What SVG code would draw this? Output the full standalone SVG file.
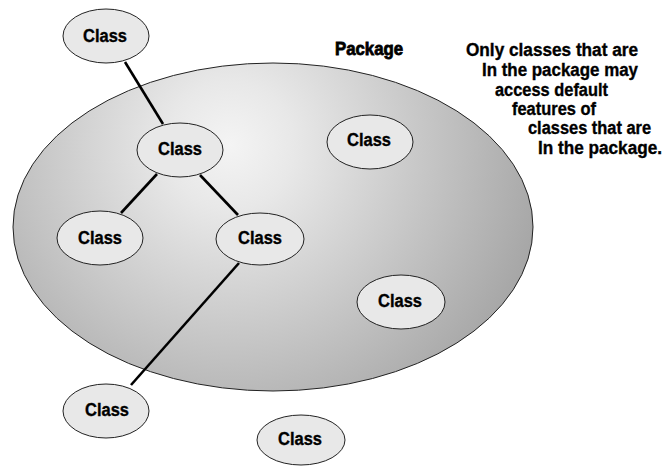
<svg xmlns="http://www.w3.org/2000/svg" width="667" height="466" viewBox="0 0 667 466">
<defs>
<radialGradient id="pkgGrad" gradientUnits="userSpaceOnUse" cx="230" cy="145" r="320">
<stop offset="0" stop-color="#f4f4f4"/>
<stop offset="0.2" stop-color="#e8e8e8"/>
<stop offset="1" stop-color="#a6a6a6"/>
</radialGradient>
<style>
.cls ellipse{fill:#e8e8e8;stroke:#222;stroke-width:1}
.t{font-family:"Liberation Sans",Arial,sans-serif;font-weight:bold;font-size:18px;fill:#000;stroke:#000;stroke-width:0.35}
.n{font-size:17.5px}
.ct{text-anchor:middle}
.conn line{stroke:#000;stroke-width:2.6}
</style>
</defs>
<rect width="667" height="466" fill="#fff"/>
<g id="package">
<ellipse cx="273" cy="227" rx="260" ry="164" fill="url(#pkgGrad)" stroke="#222" stroke-width="1"/>
<text class="t" x="335" y="55" textLength="68" lengthAdjust="spacingAndGlyphs" style="stroke-width:0.8">Package</text>
</g>
<g id="note">
<text class="t n" x="466" y="56" textLength="172" lengthAdjust="spacingAndGlyphs">Only classes that are</text>
<text class="t n" x="482" y="76" textLength="156" lengthAdjust="spacingAndGlyphs">In the package may</text>
<text class="t n" x="495" y="96" textLength="113" lengthAdjust="spacingAndGlyphs">access default</text>
<text class="t n" x="512" y="115" textLength="84" lengthAdjust="spacingAndGlyphs">features of</text>
<text class="t n" x="528" y="134" textLength="123" lengthAdjust="spacingAndGlyphs">classes that are</text>
<text class="t n" x="538" y="154" textLength="124" lengthAdjust="spacingAndGlyphs">In the package.</text>
</g>
<g id="connectors" class="conn">
<line x1="125" y1="62" x2="163" y2="124"/>
<line x1="157" y1="174" x2="121" y2="213"/>
<line x1="200" y1="175" x2="238" y2="215"/>
<line x1="239" y1="263" x2="131" y2="385"/>
</g>
<g id="class1" class="cls"><ellipse cx="106" cy="36" rx="43" ry="27"/><text class="t ct" x="105" y="42" textLength="44" lengthAdjust="spacingAndGlyphs">Class</text></g>
<g id="class2" class="cls"><ellipse cx="180" cy="150" rx="43" ry="27"/><text class="t ct" x="180" y="155" textLength="44" lengthAdjust="spacingAndGlyphs">Class</text></g>
<g id="class3" class="cls"><ellipse cx="100" cy="238" rx="43" ry="27"/><text class="t ct" x="100" y="244" textLength="44" lengthAdjust="spacingAndGlyphs">Class</text></g>
<g id="class4" class="cls"><ellipse cx="260" cy="239" rx="44" ry="26"/><text class="t ct" x="260" y="244" textLength="44" lengthAdjust="spacingAndGlyphs">Class</text></g>
<g id="class5" class="cls"><ellipse cx="370" cy="142" rx="43" ry="27"/><text class="t ct" x="369" y="146" textLength="44" lengthAdjust="spacingAndGlyphs">Class</text></g>
<g id="class6" class="cls"><ellipse cx="401" cy="302" rx="44" ry="27"/><text class="t ct" x="400" y="307" textLength="44" lengthAdjust="spacingAndGlyphs">Class</text></g>
<g id="class7" class="cls"><ellipse cx="106" cy="411" rx="43" ry="27"/><text class="t ct" x="107" y="416" textLength="44" lengthAdjust="spacingAndGlyphs">Class</text></g>
<g id="class8" class="cls"><ellipse cx="301" cy="440" rx="44" ry="25"/><text class="t ct" x="300" y="445" textLength="44" lengthAdjust="spacingAndGlyphs">Class</text></g>
</svg>
